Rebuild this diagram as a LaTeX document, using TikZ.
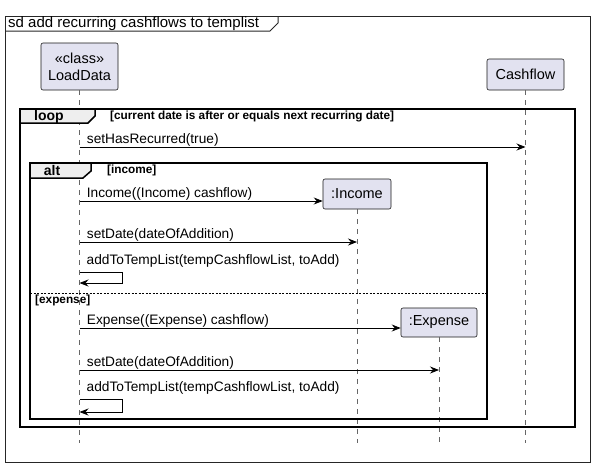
\documentclass[tikz,border=0pt]{standalone}
\usepackage{fontspec}
\setmainfont{Liberation Sans}
\usetikzlibrary{arrows.meta}

\definecolor{partfill}{HTML}{E2E2F0}
\definecolor{partline}{HTML}{181818}
\definecolor{tabfill}{HTML}{EEEEEE}

\begin{document}
\begin{tikzpicture}[x=1pt, y=-1pt,
    every node/.style={font=\fontsize{13.7}{15}\selectfont},
    participant/.style={draw=partline, fill=partfill, rounded corners=2pt, align=center, inner sep=0pt, line width=0.6pt, font=\fontsize{14.5}{17}\selectfont},
    lifeline/.style={gray!80!black, dash pattern=on 5pt off 5pt, line width=0.6pt},
    msg/.style={-{Stealth[length=9pt,width=7pt,inset=3pt]}, line width=0.8pt},
    msglabel/.style={anchor=base west, inner sep=0pt, xshift=7pt, yshift=4pt},
    sdframe/.style={line width=1.5pt},
    cond/.style={font=\fontsize{11.8}{13}\selectfont\bfseries, anchor=west, inner sep=0pt}]
  \useasboundingbox (0,0) rectangle (595,467);

  % Outer frame with title tab
  \draw[line width=1pt, black!85] (5,16) rectangle (590,462);
  \draw[line width=1pt, black!85] (5,31) -- (270,31) -- (278,23) -- (278,16);
  \node[anchor=west, font=\fontsize{15}{17}\selectfont, inner sep=0pt] (title) at (8,23.5) {sd add recurring cashflows to templist};

  % Participants
  \node[participant, minimum width=77pt, minimum height=47pt] (loaddata) at (79.5,66.5) {«class»\\LoadData};
  \node[participant, minimum width=77pt, minimum height=31pt] (cashflow) at (525.5,74.5) {Cashflow};
  \node[participant, minimum width=68pt, minimum height=30pt] (income) at (357,194) {:Income};
  \node[participant, minimum width=76pt, minimum height=29pt] (expense) at (439,322.5) {:Expense};

  % Lifelines
  \coordinate (lineend) at (0,443);
  \foreach \p in {loaddata, cashflow, income, expense}
  {
    \draw[lifeline] (\p.south) -- (\p.south |- lineend);
  }

  % Loop fragment
  \draw[sdframe] (20,109) rectangle (575,427);
  \draw[sdframe, fill=tabfill] (20,109) -- (95,109) -- (95,116) -- (88,123) -- (20,123) -- cycle;
  \node[font=\fontsize{14}{15}\selectfont\bfseries, inner sep=0pt] (looplbl) at (49,116.5) {loop};
  \node[cond] (loopcond) at (110,116.5) {[current date is after or equals next recurring date]};

  % Alt fragment
  \draw[sdframe] (30,163) rectangle (487,419);
  \draw[sdframe, fill=tabfill] (30,163) -- (91,163) -- (91,171) -- (83,178) -- (30,178) -- cycle;
  \node[font=\fontsize{14}{15}\selectfont\bfseries, inner sep=0pt] (altlbl) at (52,170.5) {alt};
  \node[cond] (altcond) at (107,170.5) {[income]};
  \draw[dash pattern=on 2pt off 1.5pt, line width=0.7pt] (30,293) -- (487,293);
  \node[cond] (elsecond) at (35,300) {[expense]};

  % Messages
  \draw[msg] (loaddata.south |- 0,147) -- (cashflow.south |- 0,147)
    node[msglabel, pos=0] {setHasRecurred(true)};
  \draw[msg] (loaddata.south |- 0,201) -- (income.west |- 0,201)
    node[msglabel, pos=0] {Income((Income) cashflow)};
  \draw[msg] (loaddata.south |- 0,242) -- (income.south |- 0,242)
    node[msglabel, pos=0] {setDate(dateOfAddition)};
  \draw[msg] (loaddata.south |- 0,272) -- ++(43,0) -- ++(0,11) -- (loaddata.south |- 0,283);
  \node[msglabel] (add1) at (loaddata.south |- 0,268) {addToTempList(tempCashflowList, toAdd)};

  \draw[msg] (loaddata.south |- 0,328) -- (expense.west |- 0,328)
    node[msglabel, pos=0] {Expense((Expense) cashflow)};
  \draw[msg] (loaddata.south |- 0,370) -- (expense.south |- 0,370)
    node[msglabel, pos=0] {setDate(dateOfAddition)};
  \draw[msg] (loaddata.south |- 0,399) -- ++(43,0) -- ++(0,13) -- (loaddata.south |- 0,412);
  \node[msglabel] (add2) at (loaddata.south |- 0,395) {addToTempList(tempCashflowList, toAdd)};
\end{tikzpicture}
\end{document}
